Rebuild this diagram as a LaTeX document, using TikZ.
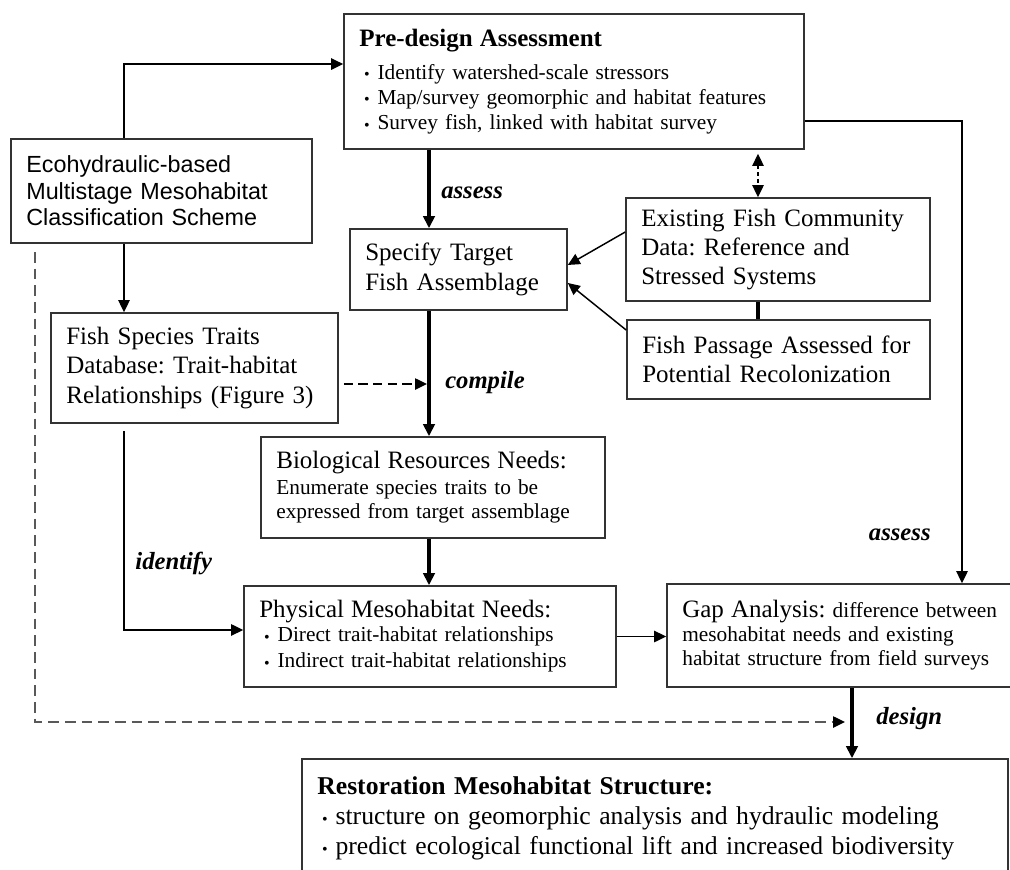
\documentclass[tikz,border=0pt]{standalone}
\usepackage{fontspec}
\setmainfont{Liberation Serif}[WordSpace=0.8]
\setsansfont{Liberation Sans}
\usepackage{tikz}
\usetikzlibrary{arrows.meta, calc}
\frenchspacing
\newcommand{\bt}{\hspace*{3.5pt}\raisebox{\dimexpr0.5ex-4pt\relax}{\fontsize{12}{12}\selectfont\textbullet}\hspace{6pt}\ignorespaces}
\newcommand{\head}{\fontsize{18.75}{22}\selectfont}

\begin{document}
\begin{tikzpicture}
  [
    x=0.75pt, y=-0.75pt,
    font=\head,
    >={Triangle[length=9pt, width=8.5pt]},
    Box/.style={rectangle, draw=black!80, line width=1.2pt, inner xsep=11.5pt, inner ysep=0pt, align=left},
    Thin/.style={line width=1.1pt},
    Thick/.style={line width=2.4pt},
    Broken/.style={line width=1.1pt, dash pattern=on 7pt off 4pt},
    Tag/.style={inner sep=0pt, font=\fontsize{18.5}{22}\selectfont\bfseries\itshape}
  ]
  \path[use as bounding box] (0,0) rectangle (1010,869);
  \clip (0,0) rectangle (1010,869);

  % Nodes
  \node[Box, text width=322pt, minimum height=101.25pt, font=\fontsize{16}{19}\selectfont] (pre) at(574, 81.5)
    {{\head\bfseries Pre-design Assessment}\\[5.75pt]
     \bt Identify watershed-scale stressors\\
     \bt Map/survey geomorphic and habitat features\\
     \bt Survey fish, linked with habitat survey};

  \node[Box, text width=202.75pt, minimum height=78pt, font=\sffamily\fontsize{17.5}{19.9}\selectfont] (eco) at(161.5, 191)
    {Ecohydraulic-based\\ Multistage Mesohabitat\\ Classification Scheme};

  \node[Box, text width=139.75pt, minimum height=60.75pt] (spec) at(458.5, 269.5)
    {Specify Target\\ Fish Assemblage};

  \node[Box, text width=205pt, minimum height=77.25pt] (exist) at(778, 249.5)
    {Existing Fish Community\\ Data: Reference and\\ Stressed Systems};

  \node[Box, text width=204.25pt, minimum height=59.25pt] (pass) at(778.5, 359.5)
    {Fish Passage Assessed for\\ Potential Recolonization};

  \node[Box, text width=192.25pt, minimum height=82.5pt] (traits) at(194.5, 368)
    {Fish Species Traits\\ Database: Trait-habitat\\ Relationships (Figure 3)};

  \node[Box, text width=235pt, minimum height=75.75pt, font=\fontsize{16}{18}\selectfont] (bio) at(433, 487.5)
    {{\head Biological Resources Needs:}\\[1.5pt]
     Enumerate species traits to be\\ expressed from target assemblage};

  \node[Box, text width=256pt, minimum height=75.75pt, font=\fontsize{16}{19.5}\selectfont] (phys) at(430, 636.5)
    {{\head Physical Mesohabitat Needs:}\\[-1.5pt]
     \bt Direct trait-habitat relationships\\
     \bt Indirect trait-habitat relationships};

  \node[Box, text width=249.25pt, minimum height=77.25pt, font=\fontsize{16}{18}\selectfont] (gap) at(848.5, 635.5)
    {{\head Gap Analysis:} difference between\\
     mesohabitat needs and existing\\ habitat structure from field surveys};

  \node[Box, text width=506.5pt, minimum height=89.25pt, font=\fontsize{19.25}{22.5}\selectfont] (rest) at(655, 818.5)
    {{\bfseries Restoration Mesohabitat Structure:}\\
     \bt structure on geomorphic analysis and hydraulic modeling\\
     \bt predict ecological functional lift and increased biodiversity};

  % Columns of the connectors
  \coordinate (spine) at(429, 0);
  \coordinate (ecoX) at(124, 0);
  \coordinate (linkX) at(758, 0);
  \coordinate (sideX) at(962, 0);
  \coordinate (designX) at(852, 0);
  \coordinate (dashA) at(35, 252);
  \coordinate (dashB) at(845, 722);

  % Lines
  \path [->, draw, Thin] (eco.north -| ecoX) |- ([yshift=13.1pt]pre.west);
  \path [->, draw, Thin] (eco.south -| ecoX) -- (traits.north -| ecoX);
  \path [-{Triangle[length=9pt, width=8.5pt, color=black]}, draw=black!65, Broken, dash pattern=on 8pt off 4.5pt] (dashA) |- (dashB);

  \path [->, draw, Thick] (pre.south -| spine) -- node[Tag, pos=0.55, right=8pt] {assess} (spec.north -| spine);
  \path [<->, draw, Thin, dash pattern=on 3pt off 2pt, shorten <=3pt] (pre.south -| linkX) -- (exist.north -| linkX);
  \path [->, draw, Thin] ([yshift=13.1pt]exist.west) -- ([yshift=3.4pt]spec.east);
  \path [->, draw, Thin] ([yshift=22.1pt]pass.west) -- ([yshift=-10.1pt]spec.east);
  \path [draw, Thick] (exist.south -| linkX) -- (pass.north -| linkX);
  \path [->, draw, Thin] ([yshift=-29.6pt]pre.east) -| node[Tag, pos=0.948, left=23pt] {assess} (gap.north -| sideX);

  \path [->, draw, Broken, shorten >=1.5pt] ([xshift=3.75pt, yshift=-12pt]traits.east) -- ([yshift=-12pt]traits.east -| spine);
  \path [->, draw, Thick] (spec.south -| spine) -- node[Tag, pos=0.575, right=11pt] {compile} (bio.north -| spine);
  \path [->, draw, Thick] (bio.south -| spine) -- (phys.north -| spine);
  \path [->, draw, Thin, shorten <=5.25pt] (traits.south -| ecoX) |- node[Tag, pos=0.338, right=8pt] {identify} ([yshift=4.9pt]phys.west);
  \path [->, draw, Thin] (phys.east) -- (phys.east -| gap.west);
  \path [->, draw, Thick] (gap.south -| designX) -- node[Tag, pos=0.43, right=17pt] {design} (rest.north -| designX);

\end{tikzpicture}
\end{document}
